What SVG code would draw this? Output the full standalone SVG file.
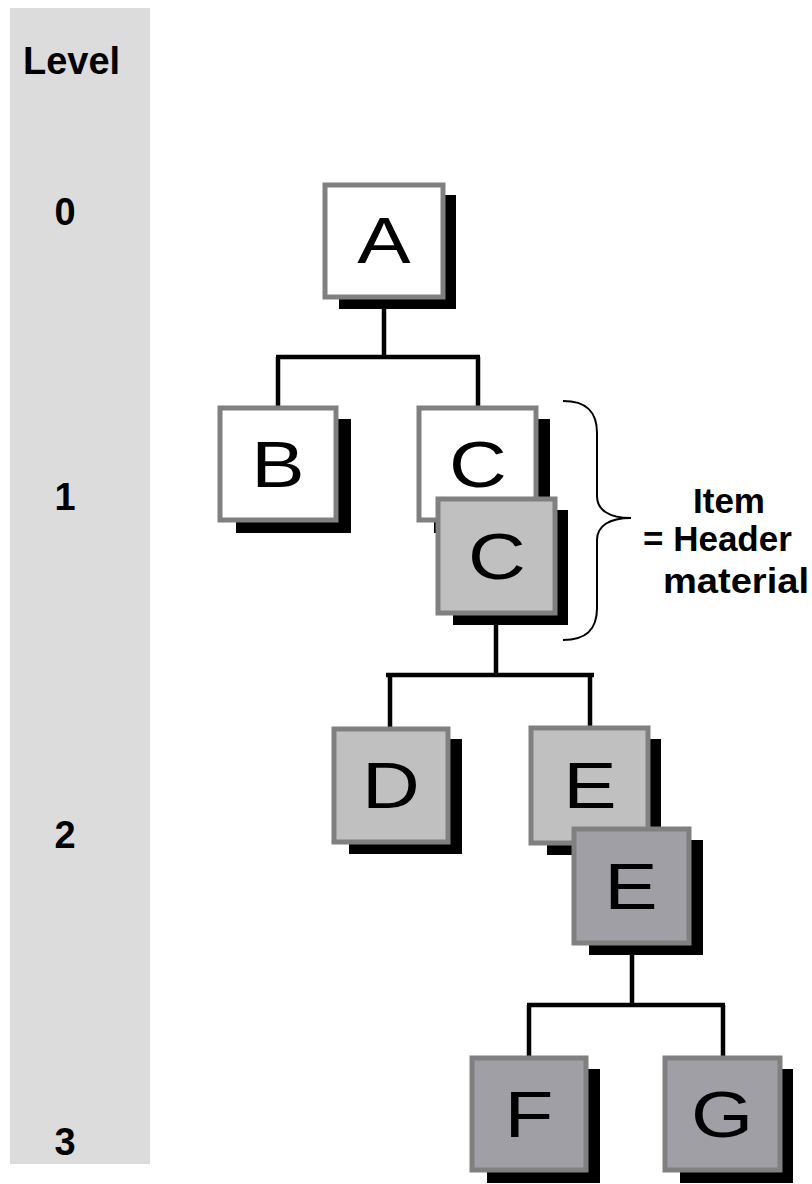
<svg xmlns="http://www.w3.org/2000/svg" width="812" height="1184" viewBox="0 0 812 1184">
  <style>
    .lvl { font-family: "Liberation Sans", Arial, sans-serif; font-weight: bold; font-size: 38px; fill: #000; }
    .note { font-family: "Liberation Sans", Arial, sans-serif; font-weight: bold; font-size: 35px; fill: #000; }
    .lbl { font-family: "Liberation Sans", Arial, sans-serif; font-size: 64px; fill: #000; text-anchor: middle; }
    .shadow { fill: #000; }
    .box { stroke: #808080; stroke-width: 5; }
    .white { fill: #ffffff; }
    .light { fill: #c0c0c0; }
    .dark { fill: #a09fa5; }
    .conn { fill: none; stroke: #000; stroke-width: 4.5; }
    .brace { fill: none; stroke: #000; stroke-width: 2; }
  </style>

  <!-- level column -->
  <g id="levels">
    <rect x="10" y="8" width="140" height="1156" fill="#dcdcdc"/>
    <text class="lvl" x="23" y="74">Level</text>
    <text class="lvl" x="65" y="225" text-anchor="middle">0</text>
    <text class="lvl" x="65" y="510" text-anchor="middle">1</text>
    <text class="lvl" x="65" y="848" text-anchor="middle">2</text>
    <text class="lvl" x="65" y="1155" text-anchor="middle">3</text>
  </g>

  <!-- tree connectors -->
  <g id="connectors">
    <path class="conn" d="M384,298 V357 M276,357 H480 M278,357 V407 M478,357 V407"/>
    <path class="conn" d="M496,614 V675 M386,675 H594 M390,675 V728 M590,675 V728"/>
    <path class="conn" d="M632,944 V1005 M527,1005 H725 M529,1005 V1057 M723,1005 V1057"/>
  </g>

  <!-- letters are set slightly wide: scale(1.25, 1) about their anchor -->
  <g id="node-A">
    <rect class="shadow" x="339" y="195" width="117" height="114"/>
    <rect class="box white" x="325" y="185" width="118" height="112"/>
    <text class="lbl" transform="translate(384 263) scale(1.25 1)">A</text>
  </g>

  <g id="node-B">
    <rect class="shadow" x="236" y="419" width="115" height="114"/>
    <rect class="box white" x="220" y="408" width="116" height="112"/>
    <text class="lbl" transform="translate(278 487) scale(1.25 1)">B</text>
  </g>

  <g id="node-C">
    <rect class="shadow" x="434" y="419" width="116" height="114"/>
    <rect class="box white" x="419" y="408" width="117" height="112"/>
    <text class="lbl" transform="translate(478 487) scale(1.25 1)">C</text>
  </g>

  <g id="node-C-header">
    <rect class="shadow" x="453" y="510" width="115" height="115"/>
    <rect class="box light" x="438" y="499" width="117" height="114"/>
    <text class="lbl" transform="translate(497 579) scale(1.25 1)">C</text>
  </g>

  <g id="node-D">
    <rect class="shadow" x="349" y="739" width="113" height="115"/>
    <rect class="box light" x="334" y="729" width="114" height="113"/>
    <text class="lbl" transform="translate(391 808) scale(1.25 1)">D</text>
  </g>

  <g id="node-E">
    <rect class="shadow" x="547" y="739" width="114" height="116"/>
    <rect class="box light" x="531" y="728" width="117" height="115"/>
    <text class="lbl" transform="translate(590 808) scale(1.25 1)">E</text>
  </g>

  <g id="node-E-header">
    <rect class="shadow" x="589" y="840" width="114" height="115"/>
    <rect class="box dark" x="574" y="829" width="115" height="114"/>
    <text class="lbl" transform="translate(631 909) scale(1.25 1)">E</text>
  </g>

  <g id="node-F">
    <rect class="shadow" x="487" y="1069" width="113" height="114"/>
    <rect class="box dark" x="472" y="1058" width="114" height="112"/>
    <text class="lbl" transform="translate(529 1137) scale(1.25 1)">F</text>
  </g>

  <g id="node-G">
    <rect class="shadow" x="680" y="1069" width="113" height="114"/>
    <rect class="box dark" x="665" y="1058" width="115" height="112"/>
    <text class="lbl" transform="translate(722 1137) scale(1.25 1)">G</text>
  </g>

  <!-- header-material annotation -->
  <g id="annotation">
    <path class="brace" d="M563,401 C586,401 597,411 597,433 L597,496 C597,510 609,518 631,518 C609,518 597,526 597,540 L597,608 C597,630 586,640 563,640"/>
    <text class="note" x="729" y="513" text-anchor="middle">Item</text>
    <text class="note" x="643" y="551">= Header</text>
    <text class="note" x="663" y="593" textLength="146" lengthAdjust="spacingAndGlyphs">material</text>
  </g>
</svg>
